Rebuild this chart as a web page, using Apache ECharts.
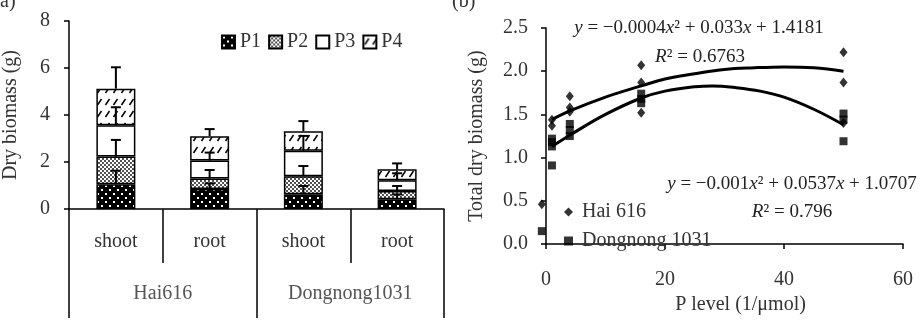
<!DOCTYPE html>
<html>
<head>
<meta charset="utf-8">
<script src="https://cdn.jsdelivr.net/npm/echarts@6/dist/echarts.min.js"></script>
<style>
html, body { margin: 0; padding: 0; background: #fff; }
#chart { width: 921px; height: 320px; }
</style>
</head>
<body>
<div id="chart"></div>
<script>
// ---- panel (a): stacked dry biomass ----
const parts = ['shoot', 'root', 'shoot', 'root'];
const cultivars = ['Hai616', 'Dongnong1031'];
const p1 = [1.05, 0.85, 0.63, 0.41];
const p2 = [1.18, 0.45, 0.76, 0.36];
const p3 = [1.33, 0.76, 1.09, 0.45];
const p4 = [1.56, 1.04, 0.83, 0.47];
const p1Err = [0.58, 0.24, 0.35, 0.21];
const p2Err = [0.71, 0.36, 0.44, 0.21];
const p3Err = [0.77, 0.34, 0.63, 0.30];
const p4Err = [0.91, 0.30, 0.43, 0.25];
const yTicksA = [0, 2, 4, 6, 8];

// ---- panel (b): total dry biomass vs P level ----
const haiPoints = [[-0.7, 0.46], [1, 1.44], [1, 1.37], [4, 1.71], [4, 1.58], [4, 1.53],
  [16, 2.07], [16, 1.87], [16, 1.52], [50, 2.22], [50, 1.87], [50, 1.40]];
const dongPoints = [[-0.7, 0.15], [1, 1.22], [1, 1.18], [1, 1.13], [1, 0.91],
  [4, 1.39], [4, 1.32], [4, 1.25], [16, 1.74], [16, 1.68], [16, 1.63],
  [50, 1.51], [50, 1.44], [50, 1.19]];
// trend curves
const haiCurve = [[1, 1.44], [4, 1.54], [10, 1.70], [16, 1.83], [20, 1.91], [25, 1.97],
  [30, 2.02], [35, 2.04], [40, 2.05], [45, 2.04], [50, 2.0]];
const dongCurve = [[1, 1.13], [4, 1.26], [10, 1.50], [16, 1.69], [20, 1.77], [25, 1.82],
  [28, 1.83], [32, 1.81], [36, 1.77], [40, 1.70], [45, 1.56], [50, 1.38]];

const FONT = 'Liberation Serif';

function pattern(kind) {
  const c = document.createElement('canvas');
  const g = c.getContext('2d');
  if (kind === 1) {
    c.width = 8; c.height = 8;
    g.fillStyle = '#000'; g.fillRect(0, 0, 8, 8);
    g.fillStyle = '#fff'; g.fillRect(1, 1, 2, 2); g.fillRect(5, 5, 2, 2);
  } else if (kind === 2) {
    c.width = 4; c.height = 4;
    g.fillStyle = '#fff'; g.fillRect(0, 0, 4, 4);
    g.fillStyle = '#000';
    g.beginPath(); g.arc(1, 1, 0.9, 0, Math.PI * 2); g.fill();
    g.beginPath(); g.arc(3, 3, 0.9, 0, Math.PI * 2); g.fill();
  } else if (kind === 4) {
    c.width = 8; c.height = 12;
    g.fillStyle = '#fff'; g.fillRect(0, 0, 8, 12);
    g.strokeStyle = '#000'; g.lineWidth = 1.5;
    g.beginPath(); g.moveTo(1.5, 9); g.lineTo(5.5, 3); g.stroke();
  } else {
    c.width = 2; c.height = 2;
    g.fillStyle = '#fff'; g.fillRect(0, 0, 2, 2);
  }
  return { image: c, repeat: 'repeat' };
}

const stacks = [p1, p2, p3, p4];
const errs = [p1Err, p2Err, p3Err, p4Err];

const barSeries = stacks.map((vals, k) => ({
  name: 'P' + (k + 1),
  type: 'bar',
  stack: 'dm',
  xAxisIndex: 0,
  yAxisIndex: 0,
  barWidth: 39,
  itemStyle: { color: pattern(k + 1), borderColor: '#000', borderWidth: 1.5 },
  emphasis: { disabled: true },
  data: vals
}));

const errData = [];
parts.forEach((p, i) => {
  let top = 0;
  stacks.forEach((vals, k) => {
    top += vals[i];
    errData.push([i, top, top + errs[k][i]]);
  });
});

const errSeries = {
  type: 'custom',
  xAxisIndex: 0,
  yAxisIndex: 0,
  z: 5,
  encode: { x: 0, y: [1, 2] },
  data: errData,
  renderItem(params, api) {
    const x = api.value(0);
    const lo = api.coord([x, api.value(1)]);
    const hi = api.coord([x, api.value(2)]);
    const w = 5;
    return {
      type: 'group',
      children: [
        { type: 'line', shape: { x1: lo[0], y1: lo[1], x2: hi[0], y2: hi[1] }, style: { stroke: '#000', lineWidth: 2 } },
        { type: 'line', shape: { x1: hi[0] - w, y1: hi[1], x2: hi[0] + w, y2: hi[1] }, style: { stroke: '#000', lineWidth: 2 } }
      ]
    };
  }
};

const axisLine = { show: true, lineStyle: { color: '#000', width: 1.5 } };
const tick = { show: true, inside: false, length: 5, lineStyle: { color: '#000', width: 1.5 } };
const lbl = { fontFamily: FONT, fontSize: 20, color: '#333' };
const eqRich = { i: { fontStyle: 'italic', fontFamily: FONT, fontSize: 19, color: '#222' } };

const option = {
  animation: false,
  backgroundColor: '#fff',
  textStyle: { fontFamily: FONT },
  grid: [
    { left: 67, top: 21, width: 377, height: 188 },
    { left: 546, top: 28, width: 357, height: 224 }
  ],
  legend: [
    {
      data: ['P1', 'P2', 'P3', 'P4'],
      left: 216, top: 27,
      icon: 'rect', itemWidth: 13, itemHeight: 13, itemGap: 7,
      textStyle: { fontFamily: FONT, fontSize: 20, color: '#333', padding: [0, 0, 4, 0] }
    },
    {
      data: ['Hai 616', 'Dongnong 1031'],
      orient: 'vertical',
      left: 559, top: 197,
      itemWidth: 9, itemHeight: 9, itemGap: 9,
      textStyle: { fontFamily: FONT, fontSize: 20, color: '#333', padding: [0, 0, 0, 4] }
    }
  ],
  xAxis: [
    {
      gridIndex: 0, type: 'category', data: parts, position: 'bottom',
      axisLine: axisLine,
      axisTick: { show: true, interval: 0, length: 54, lineStyle: { color: '#000', width: 1.5 } },
      axisLabel: Object.assign({ margin: 23, interval: 0 }, lbl)
    },
    {
      gridIndex: 0, type: 'category', data: cultivars, position: 'bottom',
      axisLine: { show: false },
      axisTick: { show: true, interval: 0, length: 109, lineStyle: { color: '#000', width: 1.5 } },
      axisLabel: Object.assign({}, lbl, { margin: 75, color: '#555' })
    },
    {
      gridIndex: 1, type: 'value', min: 0, max: 60, interval: 20,
      name: 'P level (1/μmol)', nameLocation: 'middle', nameGap: 50,
      nameTextStyle: Object.assign({ padding: [0, 0, 0, 32] }, lbl),
      axisLine: axisLine, axisTick: tick, splitLine: { show: false },
      axisLabel: Object.assign({ margin: 26 }, lbl)
    }
  ],
  yAxis: [
    {
      gridIndex: 0, type: 'value', min: yTicksA[0], max: yTicksA[yTicksA.length - 1], interval: 2,
      name: 'Dry biomass (g)', nameLocation: 'middle', nameGap: 48,
      nameTextStyle: lbl,
      axisLine: axisLine, axisTick: tick, splitLine: { show: false },
      axisLabel: Object.assign({ margin: 19 }, lbl)
    },
    {
      gridIndex: 1, type: 'value', min: 0, max: 2.5, interval: 0.5,
      name: 'Total dry biomass (g)', nameLocation: 'middle', nameGap: 59,
      nameTextStyle: lbl,
      axisLine: axisLine, axisTick: tick, splitLine: { show: false },
      axisLabel: Object.assign({ margin: 18, formatter: v => v.toFixed(1) }, lbl)
    }
  ],
  series: barSeries.concat([errSeries,
    {
      name: 'Hai 616', type: 'scatter', xAxisIndex: 2, yAxisIndex: 1, clip: false,
      symbol: 'diamond', symbolSize: [8, 10], itemStyle: { color: '#000' }, z: 4,
      data: haiPoints
    },
    {
      name: 'Dongnong 1031', type: 'scatter', xAxisIndex: 2, yAxisIndex: 1, clip: false,
      symbol: 'rect', symbolSize: 8, itemStyle: { color: '#000' }, z: 4,
      data: dongPoints
    },
    {
      type: 'line', xAxisIndex: 2, yAxisIndex: 1, smooth: 0.4, showSymbol: false,
      lineStyle: { color: '#000', width: 3 }, data: haiCurve
    },
    {
      type: 'line', xAxisIndex: 2, yAxisIndex: 1, smooth: 0.4, showSymbol: false,
      lineStyle: { color: '#000', width: 3 }, data: dongCurve
    }
  ]),
  graphic: [
    { type: 'text', left: 0, top: -8, style: { text: 'a)', fontFamily: FONT, fontSize: 20, fill: '#333' } },
    { type: 'text', left: 452, top: -8, style: { text: '(b)', fontFamily: FONT, fontSize: 20, fill: '#333' } },
    {
      type: 'text', x: 699, y: 28,
      style: {
        text: '{i|y} = −0.0004{i|x}² + 0.033{i|x} + 1.4181',
        fontFamily: FONT, fontSize: 19, fill: '#222', align: 'center', verticalAlign: 'middle', rich: eqRich
      }
    },
    {
      type: 'text', x: 700, y: 57,
      style: {
        text: '{i|R}² = 0.6763',
        fontFamily: FONT, fontSize: 19, fill: '#222', align: 'center', verticalAlign: 'middle', rich: eqRich
      }
    },
    {
      type: 'text', x: 792, y: 184,
      style: {
        text: '{i|y} = −0.001{i|x}² + 0.0537{i|x} + 1.0707',
        fontFamily: FONT, fontSize: 19, fill: '#222', align: 'center', verticalAlign: 'middle', rich: eqRich
      }
    },
    {
      type: 'text', x: 792, y: 212,
      style: {
        text: '{i|R}² = 0.796',
        fontFamily: FONT, fontSize: 19, fill: '#222', align: 'center', verticalAlign: 'middle', rich: eqRich
      }
    }
  ]
};

const myChart = echarts.init(document.getElementById('chart'));
myChart.setOption(option);
</script>
</body>
</html>
